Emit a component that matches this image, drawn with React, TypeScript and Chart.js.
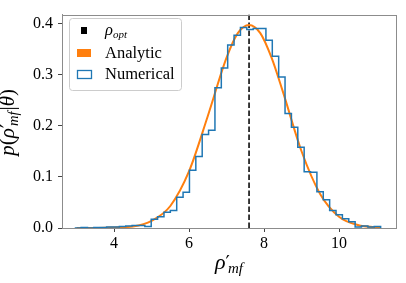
import React, { useEffect, useRef } from "react";
import { Chart, registerables } from "chart.js";

Chart.register(...registerables);

// ---- data ----
const binStart = 2.95;
const binWidth = 0.17;
const numericalDensity = [
  0.0, 0.001, 0.0, 0.001, 0.001, 0.002, 0.002, 0.003, 0.004, 0.005,
  0.005, 0.003, 0.017, 0.022, 0.031, 0.034, 0.06, 0.07, 0.113, 0.14,
  0.183, 0.191, 0.274, 0.313, 0.358, 0.377, 0.392, 0.388, 0.39, 0.39,
  0.367, 0.336, 0.295, 0.224, 0.197, 0.158, 0.11, 0.109, 0.071, 0.055,
  0.034, 0.026, 0.018, 0.012, 0.002, 0.004, 0.002, 0.003,
];
const analyticX = [3.0, 3.5, 4.0, 4.5, 5.0, 5.5, 6.0, 6.5, 7.0, 7.3, 7.6, 7.9, 8.2, 8.5, 9.0, 9.5, 10.0, 10.5, 11.1];
const analyticY = [0.0, 0.0, 0.001, 0.003, 0.014, 0.043, 0.111, 0.219, 0.333, 0.381, 0.397, 0.381, 0.333, 0.267, 0.15, 0.066, 0.022, 0.006, 0.001];
const rhoOpt = 7.6;
const xTicks = [4, 6, 8, 10];
const yTicks = [0, 0.1, 0.2, 0.3, 0.4];
const xRange = [2.61, 11.52];
const yRange = [0, 0.4172];

const SERIF = '"Liberation Serif", "DejaVu Serif", serif';
const PRIME_FONT = '"DejaVu Serif", serif';

type Seg = { t: string; size: number; italic?: boolean; dy?: number; family?: string; dx?: number };

function drawRich(ctx: CanvasRenderingContext2D, segs: Seg[], x: number, y: number, align: "left" | "center") {
  ctx.save();
  ctx.textBaseline = "alphabetic";
  ctx.textAlign = "left";
  ctx.fillStyle = "#000";
  const fontOf = (s: Seg) => `${s.italic ? "italic " : ""}${s.size}px ${s.family || SERIF}`;
  const widths = segs.map((s) => {
    ctx.font = fontOf(s);
    return ctx.measureText(s.t).width + (s.dx || 0);
  });
  const total = widths.reduce((a, b) => a + b, 0);
  let cx = align === "center" ? x - total / 2 : x;
  segs.forEach((s, i) => {
    ctx.font = fontOf(s);
    ctx.fillText(s.t, cx, y + (s.dy || 0));
    cx += widths[i];
  });
  ctx.restore();
}

const decorPlugin = {
  id: "decor",
  afterDraw(chart: any) {
    const ctx: CanvasRenderingContext2D = chart.ctx;
    const a = chart.chartArea;
    // frame
    ctx.save();
    ctx.strokeStyle = "#8c8c8c";
    ctx.lineWidth = 1;
    ctx.strokeRect(Math.round(a.left) + 0.5, Math.round(a.top) + 0.5, Math.round(a.right - a.left), Math.round(a.bottom - a.top));
    ctx.restore();

    // legend
    ctx.save();
    const lx = 69.5, ly = 18.5, lw = 112, lh = 72, r = 3;
    ctx.beginPath();
    ctx.moveTo(lx + r, ly);
    ctx.lineTo(lx + lw - r, ly);
    ctx.quadraticCurveTo(lx + lw, ly, lx + lw, ly + r);
    ctx.lineTo(lx + lw, ly + lh - r);
    ctx.quadraticCurveTo(lx + lw, ly + lh, lx + lw - r, ly + lh);
    ctx.lineTo(lx + r, ly + lh);
    ctx.quadraticCurveTo(lx, ly + lh, lx, ly + lh - r);
    ctx.lineTo(lx, ly + r);
    ctx.quadraticCurveTo(lx, ly, lx + r, ly);
    ctx.closePath();
    ctx.fillStyle = "rgba(255,255,255,0.85)";
    ctx.fill();
    ctx.strokeStyle = "#cccccc";
    ctx.lineWidth = 1;
    ctx.stroke();

    // handles
    ctx.fillStyle = "#000";
    ctx.fillRect(81, 27, 6, 7);
    ctx.fillStyle = "#ff7f0e";
    ctx.fillRect(77, 49, 14, 8);
    ctx.strokeStyle = "#1f77b4";
    ctx.lineWidth = 1.3;
    ctx.strokeRect(77.5, 70.5, 14, 8);
    ctx.restore();

    drawRich(ctx, [
      { t: "ρ", size: 16.5, italic: true },
      { t: "opt", size: 11, italic: true, dy: 3 },
    ], 105, 35, "left");
    drawRich(ctx, [{ t: "Analytic", size: 16.5 }], 105, 58, "left");
    drawRich(ctx, [{ t: "Numerical", size: 16.5 }], 105, 79, "left");

    // x axis title
    const cxm = (a.left + a.right) / 2;
    drawRich(ctx, [
      { t: "ρ", size: 22, italic: true, dx: 0 },
      { t: "′", size: 19, dy: 0, family: PRIME_FONT, dx: -2 },
      { t: "mf", size: 15, italic: true, dy: 4 },
    ], cxm, 269, "center");

    // y axis title
    ctx.save();
    ctx.translate(14, (a.top + a.bottom) / 2 + 1);
    ctx.rotate(-Math.PI / 2);
    drawRich(ctx, [
      { t: "p", size: 21, italic: true },
      { t: "(", size: 21 },
      { t: "ρ", size: 21, italic: true, dx: 0 },
      { t: "′", size: 18, dy: 0, family: PRIME_FONT, dx: -2 },
      { t: "mf", size: 14.5, italic: true, dy: 4, dx: 1 },
      { t: "|", size: 21 },
      { t: "θ", size: 21, italic: true },
      { t: ")", size: 21 },
    ], 0, 0, "center");
    ctx.restore();
  },
};

export default function App() {
  const ref = useRef<HTMLCanvasElement | null>(null);

  useEffect(() => {
    if (!ref.current) return;
    const histPoints: { x: number; y: number }[] = [{ x: binStart, y: 0 }];
    numericalDensity.forEach((h, i) => histPoints.push({ x: binStart + i * binWidth, y: h }));
    histPoints.push({ x: binStart + numericalDensity.length * binWidth, y: 0 });

    const analyticPoints = analyticX.map((x, i) => ({ x, y: analyticY[i] }));
    const optPoints = [
      { x: rhoOpt, y: yRange[0] },
      { x: rhoOpt, y: yRange[1] },
    ];

    const chart = new Chart(ref.current, {
      type: "line",
      data: {
        datasets: [
          {
            label: "Numerical",
            data: histPoints,
            borderColor: "#1f77b4",
            borderWidth: 1.5,
            pointRadius: 0,
            stepped: "before",
            fill: false,
            tension: 0,
          } as any,
          {
            label: "Analytic",
            data: analyticPoints,
            borderColor: "#ff7f0e",
            borderWidth: 2,
            pointRadius: 0,
            cubicInterpolationMode: "monotone",
            fill: false,
          },
          {
            label: "rho_opt",
            data: optPoints,
            borderColor: "#262626",
            borderWidth: 1.8,
            borderDash: [5.5, 2.5],
            pointRadius: 0,
            fill: false,
          },
        ],
      },
      options: {
        animation: false,
        responsive: false,
        maintainAspectRatio: false,
        parsing: false as any,
        layout: { padding: { top: 10, right: 10, left: 0, bottom: 0 } },
        plugins: {
          legend: { display: false },
          tooltip: { enabled: false },
        },
        scales: {
          x: {
            type: "linear",
            min: xRange[0],
            max: xRange[1],
            afterBuildTicks: (s: any) => {
              s.ticks = xTicks.map((v) => ({ value: v }));
            },
            afterFit: (s: any) => {
              s.height = 55;
            },
            ticks: {
              color: "#000",
              font: { family: SERIF, size: 16 },
              padding: 2,
              maxRotation: 0,
              callback: (v: any) => String(v),
            },
            grid: {
              display: true,
              drawOnChartArea: false,
              drawTicks: true,
              tickLength: 4,
              color: "#444",
            },
            border: { display: true, color: "#8c8c8c", width: 1 },
          },
          y: {
            type: "linear",
            min: yRange[0],
            max: yRange[1],
            afterBuildTicks: (s: any) => {
              s.ticks = yTicks.map((v) => ({ value: v }));
            },
            afterFit: (s: any) => {
              s.width = 62;
            },
            ticks: {
              color: "#000",
              font: { family: SERIF, size: 16 },
              padding: 5,
              callback: (v: any) => Number(v).toFixed(1),
            },
            grid: {
              display: true,
              drawOnChartArea: false,
              drawTicks: true,
              tickLength: 4,
              color: "#444",
            },
            border: { display: true, color: "#8c8c8c", width: 1 },
          },
        },
      },
      plugins: [decorPlugin],
    });
    return () => chart.destroy();
  }, []);

  return (
    <div style={{ position: "fixed", left: 0, top: 0, width: 406, height: 283, background: "#fff" }}>
      <canvas ref={ref} width={406} height={283} style={{ display: "block", width: 406, height: 283 }} />
    </div>
  );
}
